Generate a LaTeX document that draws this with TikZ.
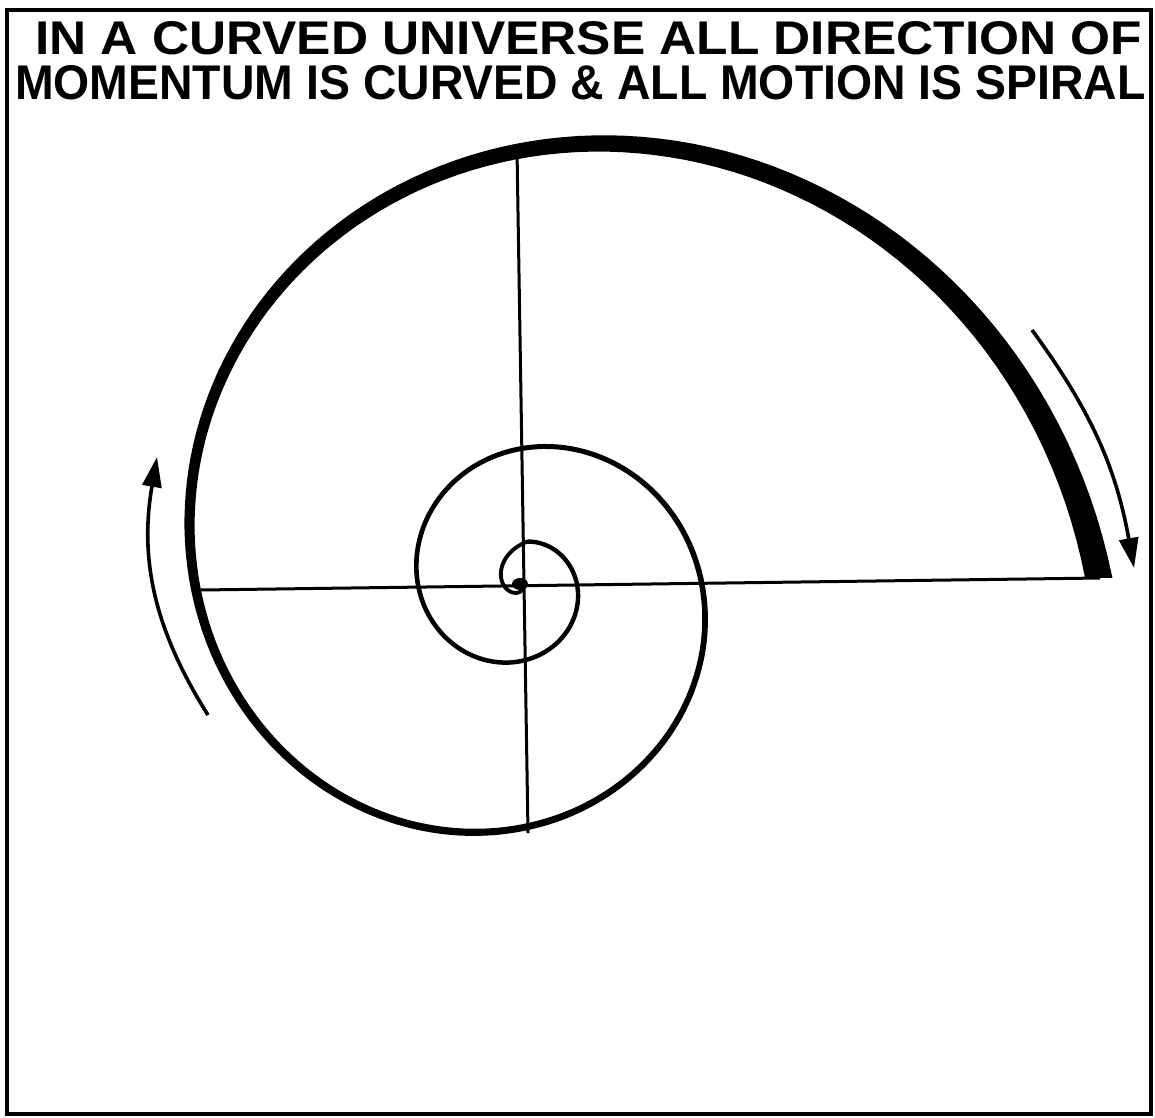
\documentclass[tikz,border=0pt]{standalone}
\usepackage{fontspec}
\setmainfont{Liberation Sans}
\usepackage{graphicx}
\usetikzlibrary{arrows.meta}
\tikzset{
  axisline/.style={line width=3pt},
  motionarrow/.style={line width=3.6pt, -{Triangle[length=30pt,width=19pt]}}
}

\begin{document}
\begin{tikzpicture}[x=1pt, y=-1pt,
  declare function={spr(\x)=580*exp(-0.003222*\x-max(0,\x-800)/150);
                    spw(\x)=4.4+23*exp(-\x/125);}]
  \useasboundingbox (0,0) rectangle (1155,1117);
  % frame
  \draw[line width=4pt] (7,10) rectangle (1151,1114);
  % title
  \node[anchor=south west, inner sep=0] (title1) at (35,55)
    {\resizebox{1107pt}{33pt}{\bfseries IN A CURVED UNIVERSE ALL DIRECTION OF}};
  \node[anchor=south west, inner sep=0] (title2) at (15,100)
    {\resizebox{1130pt}{34pt}{\bfseries MOMENTUM IS CURVED \& ALL MOTION IS SPIRAL}};
  % cross through the centre
  \coordinate (hleft) at (200,590);
  \coordinate (hright) at (1100,578);
  \coordinate (vtop) at (517,150);
  \coordinate (vbottom) at (528,833);
  \draw[axisline] (hleft) -- (hright);
  \draw[axisline] (vtop) -- (vbottom);
  % spiral, thicker towards the outside
  \fill plot[domain=0.7:1080, samples=541, variable=\t]
      ({520+(spr(\t)+spw(\t)/2)*cos(\t)}, {585-(spr(\t)+spw(\t)/2)*sin(\t)})
    -- plot[domain=1080:0.7, samples=541, variable=\t]
      ({520+(spr(\t)-spw(\t)/2)*cos(\t)}, {585-(spr(\t)-spw(\t)/2)*sin(\t)})
    -- cycle;
  \fill (520,584) ellipse [x radius=8, y radius=6];
  % direction of motion
  \coordinate (outA) at (1032,330);
  \coordinate (outB) at (1134,568);
  \coordinate (inA) at (208,715);
  \coordinate (inB) at (157,457);
  \draw[motionarrow] (outA) to[bend left=13] (outB);
  \draw[motionarrow] (inA) to[bend left=21] (inB);
\end{tikzpicture}
\end{document}
